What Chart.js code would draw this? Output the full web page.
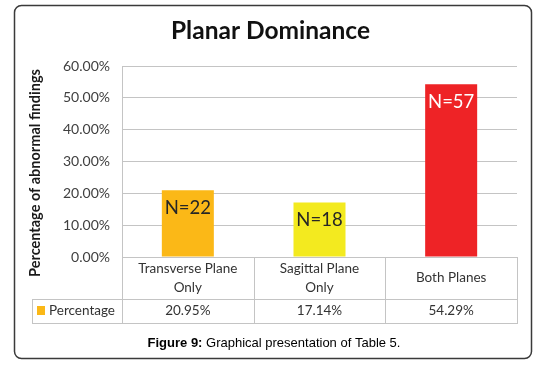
<!DOCTYPE html>
<html>
<head>
<meta charset="utf-8">
<script src="https://cdn.jsdelivr.net/npm/chart.js@4/dist/chart.umd.min.js"></script>
<style>
html,body{margin:0;padding:0;background:#fff;}
#wrap{width:555px;height:369px;position:relative;}
</style>
</head>
<body>
<div id="wrap"><canvas id="c" width="555" height="369"></canvas></div>
<script>
const chartTitle = "Planar Dominance";
const yAxisTitle = "Percentage of abnormal findings";
const seriesName = "Percentage";
const categories = [["Transverse Plane", "Only"], ["Sagittal Plane", "Only"], ["Both Planes"]];
const percentages = [20.95, 17.14, 54.29];
const counts = [22, 18, 57];
const tableValues = ["20.95%", "17.14%", "54.29%"];
const yTicks = [0, 10, 20, 30, 40, 50, 60];
const barColors = ["#FBB817", "#F3EA1F", "#EE2326"];
const labelColors = ["#262626", "#262626", "#FFFFFF"];
const captionBold = "Figure 9:";
const captionText = " Graphical presentation of Table 5.";

const FONT = "Lato, 'Open Sans', sans-serif";
const GRID = "#C4C4C4";

const decor = {
  id: "decor",
  afterDraw(chart) {
    const ctx = chart.ctx;
    const x = chart.scales.x;
    const area = chart.chartArea;
    const n = categories.length;
    const cw = (area.right - area.left) / n;
    ctx.save();
    // bar labels
    const meta = chart.getDatasetMeta(0);
    ctx.font = "18.5px " + FONT;
    ctx.textAlign = "center";
    ctx.textBaseline = "middle";
    meta.data.forEach((bar, i) => {
      ctx.fillStyle = labelColors[i];
      ctx.fillText("N=" + counts[i], bar.x, bar.y + 18);
    });
    // table
    const tTop = area.bottom, row1 = area.bottom + 42, row2 = area.bottom + 66;
    const tLeft = 32;
    ctx.strokeStyle = GRID;
    ctx.lineWidth = 1;
    ctx.beginPath();
    for (let i = 0; i <= n; i++) {
      const bx = Math.round(area.left + i * cw) + 0.5;
      ctx.moveTo(bx, tTop); ctx.lineTo(bx, row2);
    }
    ctx.moveTo(tLeft + 0.5, row1); ctx.lineTo(tLeft + 0.5, row2);
    ctx.moveTo(tLeft, row1 + 0.5); ctx.lineTo(area.right + 1, row1 + 0.5);
    ctx.moveTo(tLeft, row2 + 0.5); ctx.lineTo(area.right + 1, row2 + 0.5);
    ctx.stroke();
    ctx.fillStyle = "#333333";
    ctx.font = "13.5px " + FONT;
    categories.forEach((lines, i) => {
      const cx = x.getPixelForValue(i);
      const cy = (tTop + row1) / 2;
      const lh = 19;
      lines.forEach((t, k) => {
        ctx.fillText(t, cx, cy + (k - (lines.length - 1) / 2) * lh);
      });
      ctx.fillText(tableValues[i], cx, (row1 + row2) / 2);
    });
    // legend key
    ctx.fillStyle = barColors[0];
    ctx.fillRect(37, row1 + 7, 8, 9);
    ctx.fillStyle = "#333333";
    ctx.textAlign = "left";
    ctx.fillText(seriesName, 49, (row1 + row2) / 2);
    // y-axis title
    ctx.save();
    ctx.translate(35, 173);
    ctx.rotate(-Math.PI / 2);
    ctx.textAlign = "center";
    ctx.font = "bold 14.5px " + FONT;
    ctx.fillStyle = "#1a1a1a";
    ctx.fillText(yAxisTitle, 0, 0);
    ctx.restore();
    // chart title
    ctx.textAlign = "center";
    ctx.font = "bold 24.5px " + FONT;
    ctx.fillStyle = "#111111";
    ctx.fillText(chartTitle, 270.5, 31);
    // caption
    ctx.font = "bold 13px 'Liberation Sans', Arial, sans-serif";
    const w1 = ctx.measureText(captionBold).width;
    ctx.font = "13px 'Liberation Sans', Arial, sans-serif";
    const w2 = ctx.measureText(captionText).width;
    const sx = 274 - (w1 + w2) / 2;
    ctx.textAlign = "left";
    ctx.fillStyle = "#000";
    ctx.font = "bold 13px 'Liberation Sans', Arial, sans-serif";
    ctx.fillText(captionBold, sx, 343);
    ctx.font = "13px 'Liberation Sans', Arial, sans-serif";
    ctx.fillText(captionText, sx + w1, 343);
    // frame
    ctx.strokeStyle = "#3a3a3a";
    ctx.lineWidth = 1.5;
    ctx.beginPath();
    ctx.roundRect(14.5, 5.5, 517, 353, 7);
    ctx.stroke();
    ctx.restore();
  }
};

new Chart(document.getElementById("c"), {
  type: "bar",
  data: {
    labels: categories,
    datasets: [{
      label: seriesName,
      data: percentages,
      backgroundColor: barColors,
      borderWidth: 0,
      categoryPercentage: 1,
      barPercentage: 0.395
    }]
  },
  options: {
    responsive: false,
    animation: false,
    devicePixelRatio: 1,
    layout: { padding: { left: 14, right: 38, top: 66, bottom: 46 } },
    plugins: { legend: { display: false }, title: { display: false }, tooltip: { enabled: false } },
    scales: {
      x: {
        grid: { display: false },
        border: { display: false },
        ticks: { display: false },
        afterFit: s => { s.height = 66; }
      },
      y: {
        min: 0, max: 60,
        afterBuildTicks: s => { s.ticks = yTicks.map(v => ({ value: v })); },
        afterFit: s => { s.width = 108; },
        grid: { color: GRID, drawTicks: false },
        border: { display: true, color: GRID },
        ticks: {
          padding: 12,
          color: "#404040",
          font: { family: FONT, size: 14 },
          callback: v => v.toFixed(2) + "%"
        }
      }
    }
  },
  plugins: [decor]
});
</script>
</body>
</html>
